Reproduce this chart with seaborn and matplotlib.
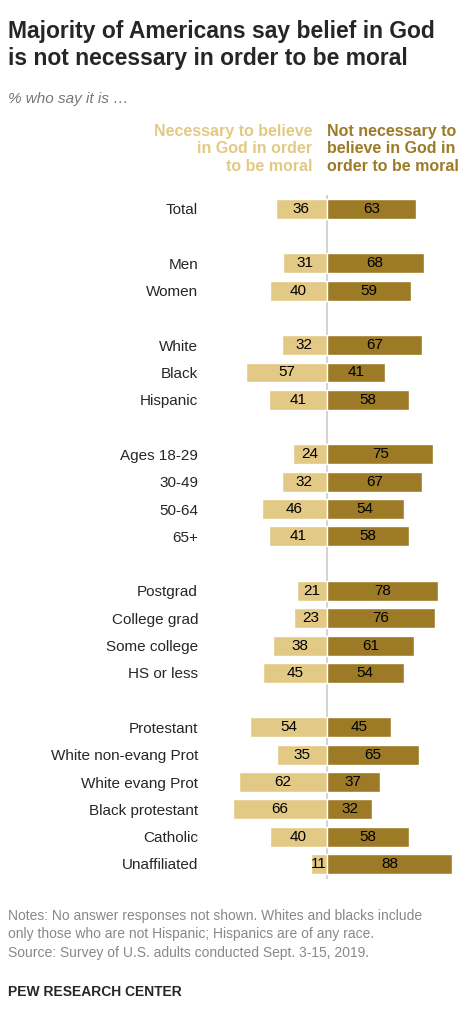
import matplotlib
matplotlib.use("Agg")
import matplotlib.pyplot as plt
import seaborn as sns
import pandas as pd

# data
groups = ["Total", "Men", "Women", "White", "Black", "Hispanic",
          "Ages 18-29", "30-49", "50-64", "65+",
          "Postgrad", "College grad", "Some college", "HS or less",
          "Protestant", "White non-evang Prot", "White evang Prot",
          "Black protestant", "Catholic", "Unaffiliated"]
necessary = [36, 31, 40, 32, 57, 41, 24, 32, 46, 41, 21, 23, 38, 45, 54, 35, 62, 66, 40, 11]
not_necessary = [63, 68, 59, 67, 41, 58, 75, 67, 54, 58, 78, 76, 61, 54, 45, 65, 37, 32, 58, 88]
rows = [0, 2, 3, 5, 6, 7, 9, 10, 11, 12, 14, 15, 16, 17, 19, 20, 21, 22, 23, 24]

LIGHT = "#E3C986"
DARK = "#9C7A26"

df = pd.DataFrame({"group": groups, "nec": necessary, "notnec": not_necessary, "row": rows})

sns.set_style("white")
plt.rcParams["font.family"] = ["Liberation Sans", "DejaVu Sans"]

W, H = 470, 1024
fig = plt.figure(figsize=(W / 100, H / 100), dpi=100)
ax = fig.add_axes([230 / W, 1 - 879 / H, 230 / W, 684 / H])

sns.barplot(x=-df["nec"], y=df["row"], orient="h", native_scale=True, color=LIGHT,
            width=0.73, saturation=1, ax=ax)
sns.barplot(x=df["notnec"], y=df["row"], orient="h", native_scale=True, color=DARK,
            width=0.73, saturation=1, ax=ax)

ax.set_xlim(-68.3, 93.7)
ax.set_ylim(24.55, -0.5)
ax.axvline(0, color="#CCCCCC", lw=1.2, zorder=0)
for s in ax.spines.values():
    s.set_visible(False)
ax.set_xticks([])
ax.set_yticks(df["row"])
ax.set_yticklabels(df["group"], fontsize=11)
ax.tick_params(axis="y", length=0, pad=23)
ax.set_xlabel("")
ax.set_ylabel("")

for _, r in df.iterrows():
    ax.text(-r["nec"] / 2, r["row"], str(r["nec"]), ha="center", va="center", fontsize=11, color="black")
    ax.text(r["notnec"] / 2, r["row"], str(r["notnec"]), ha="center", va="center", fontsize=11, color="black")

fig.text(8 / W, 1 - 20 / H, "Majority of Americans say belief in God\nis not necessary in order to be moral",
         fontsize=16.5, fontweight="bold", va="top", linespacing=1.2)
fig.text(8 / W, 1 - 92 / H, "% who say it is \u2026", fontsize=11, style="italic",
         color="#777777", va="top")
fig.text(312 / W, 1 - 124 / H, "Necessary to believe\nin God in order\nto be moral", color=LIGHT,
         fontsize=11.5, fontweight="bold", ha="right", va="top", linespacing=1.2)
fig.text(327 / W, 1 - 124 / H, "Not necessary to\nbelieve in God in\norder to be moral", color=DARK,
         fontsize=11.5, fontweight="bold", ha="left", va="top", linespacing=1.2)

fig.text(8 / W, 1 - 909 / H,
         "Notes: No answer responses not shown. Whites and blacks include\n"
         "only those who are not Hispanic; Hispanics are of any race.\n"
         "Source: Survey of U.S. adults conducted Sept. 3-15, 2019.",
         fontsize=10, color="#888888", va="top", linespacing=1.4)
fig.text(8 / W, 1 - 985 / H, "PEW RESEARCH CENTER", fontsize=10, fontweight="bold", va="top")

fig.savefig("out.png", dpi=100)
